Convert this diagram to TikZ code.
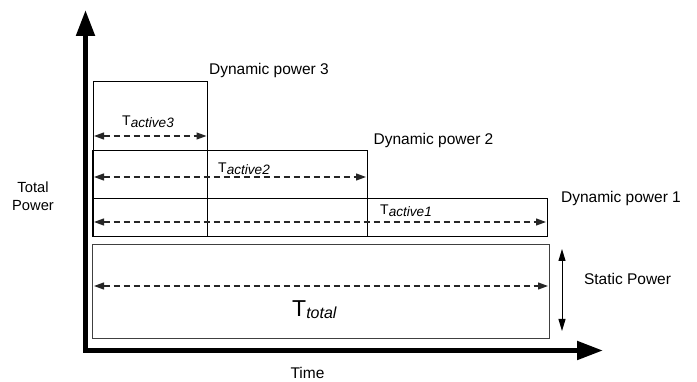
\documentclass[tikz,border=0pt]{standalone}
\usepackage{fontspec}
\setmainfont{Liberation Sans}
\usetikzlibrary{arrows.meta}

% T with an italic index, as in the figure
\newcommand{\tspan}[1]{{\fontsize{14}{16}\selectfont T\raisebox{-1.2pt}{\fontsize{13.6}{16}\selectfont\itshape #1}}}
\newcommand{\ttot}[1]{{\fontsize{23}{26}\selectfont T\raisebox{-2pt}{\fontsize{16}{18}\selectfont\itshape #1}}}

\begin{document}
\begin{tikzpicture}[x=1pt, y=-1pt]
      \tikzstyle{axis}=[line width=5pt, {Triangle[length=26pt,width=18pt]}-{Triangle[length=26pt,width=18pt]}];
      \tikzstyle{pbox}=[draw, line width=1pt, rectangle, anchor=north west, inner sep=0pt, outer sep=0pt];
      \tikzstyle{span}=[line width=1.2pt, black!85, dash pattern=on 6pt off 4pt, {Triangle[length=10pt,width=7pt]}-{Triangle[length=10pt,width=7pt]}];
      \tikzstyle{lbl}=[font=\fontsize{15.5}{18}\selectfont, inner sep=0pt];

      \useasboundingbox (0,0) rectangle (697,382);

      % power boxes
      \node[pbox, minimum width=114pt, minimum height=155pt] (dp3) at (93,82) {};
      \node[pbox, minimum width=275pt, minimum height=86pt] (dp2) at (92,151) {};
      \node[pbox, minimum width=455pt, minimum height=38pt] (dp1) at (92,199) {};
      \node[pbox, draw=black!75, minimum width=457pt, minimum height=94pt] (stat) at (92,245) {};

      % axes
      \coordinate (ytip) at (85.5,10);
      \coordinate (origin) at (85.5,350.5);
      \coordinate (xtip) at (603,350.5);
      \draw[axis] (ytip) -- (origin) -- (xtip);

      % time spans
      \coordinate (a3l) at (94,136);   \coordinate (a3r) at (206.5,136);
      \coordinate (a2l) at (94,177);   \coordinate (a2r) at (366,177);
      \coordinate (a1l) at (94,222);   \coordinate (a1r) at (546,222);
      \coordinate (atl) at (94,286);   \coordinate (atr) at (548,286);
      \draw[span] (a3l) -- (a3r);
      \draw[span] (a2l) -- (a2r);
      \draw[span] (a1l) -- (a1r);
      \draw[span] (atl) -- (atr);

      \node[lbl, anchor=base west] (t3) at (122,126) {\tspan{active3}};
      \node[lbl, anchor=base west] (t2) at (218,173) {\tspan{active2}};
      \node[lbl, anchor=base west] (t1) at (380,215) {\tspan{active1}};
      \node[lbl, anchor=base west] (tt) at (292,317) {\ttot{total}};

      % static power height
      \coordinate (sptop) at (562,249);
      \coordinate (spbot) at (562,331);
      \draw[line width=1pt, {Triangle[length=12pt,width=7pt]}-{Triangle[length=12pt,width=7pt]}] (sptop) -- (spbot);

      % labels
      \node[lbl] (ldp3) at (269,70) {Dynamic power 3};
      \node[lbl] (ldp2) at (433.5,140) {Dynamic power 2};
      \node[lbl] (ldp1) at (621,198) {Dynamic power 1};
      \node[lbl] (lsp) at (627.5,279) {Static Power};
      \node[lbl, font=\fontsize{14.7}{18}\selectfont, align=center] (ltp) at (33,196) {Total\\Power};
      \node[lbl] (ltime) at (307.5,373) {Time};
    \end{tikzpicture}
\end{document}
